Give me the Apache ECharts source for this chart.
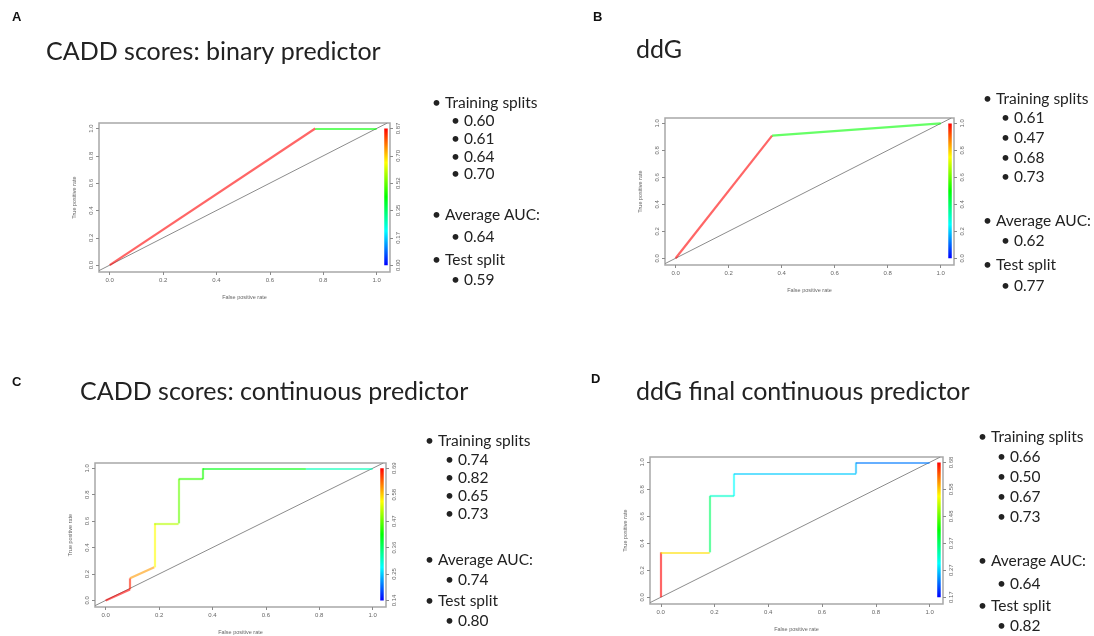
<!DOCTYPE html>
<html>
<head>
<meta charset="utf-8">
<script src="https://cdn.jsdelivr.net/npm/echarts@6/dist/echarts.min.js"></script>
<style>
  html, body { margin: 0; background: #fff; }
  #chart { width: 1094px; height: 636px; }
</style>
</head>
<body>
<div id="chart"></div>
<script>
// ---- data ----
// A: CADD scores, binary predictor
const fprA = [0, 0.77, 1.0];
const tprA = [0, 1.0, 1.0];
const levelA = [1.0, 0.5];            // colour level of each segment (0 = blue, 1 = red)
const cutoffLabelsA = ['0.00', '0.17', '0.35', '0.52', '0.70', '0.87'];
const splitsA = ['0.60', '0.61', '0.64', '0.70'];
const avgAucA = '0.64';
const testA = '0.59';

// B: ddG
const fprB = [0, 0.364, 1.0];
const tprB = [0, 0.909, 1.0];
const levelB = [1.0, 0.5];
const cutoffLabelsB = ['0.0', '0.2', '0.4', '0.6', '0.8', '1.0'];
const splitsB = ['0.61', '0.47', '0.68', '0.73'];
const avgAucB = '0.62';
const testB = '0.77';

// C: CADD scores, continuous predictor
const fprC = [0, 0.091, 0.091, 0.182, 0.182, 0.273, 0.273, 0.364, 0.364, 0.75, 1.0];
const tprC = [0, 0.083, 0.167, 0.25, 0.583, 0.583, 0.917, 0.917, 1.0, 1.0, 1.0];
const levelC = [1.0, 0.97, 0.85, 0.75, 0.68, 0.6, 0.55, 0.52, 0.48, 0.32];
const cutoffLabelsC = ['0.14', '0.25', '0.36', '0.47', '0.58', '0.69'];
const splitsC = ['0.74', '0.82', '0.65', '0.73'];
const avgAucC = '0.74';
const testC = '0.80';

// D: ddG final continuous predictor
const fprD = [0, 0, 0.182, 0.182, 0.273, 0.273, 0.727, 0.727, 1.0];
const tprD = [0, 0.333, 0.333, 0.75, 0.75, 0.917, 0.917, 1.0, 1.0];
const levelD = [1.0, 0.78, 0.4, 0.3, 0.25, 0.2, 0.18, 0.12];
const cutoffLabelsD = ['0.17', '0.27', '0.37', '0.48', '0.58', '0.68'];
const splitsD = ['0.66', '0.50', '0.67', '0.73'];
const avgAucD = '0.64';
const testD = '0.82';

const tickValues = [0, 0.2, 0.4, 0.6, 0.8, 1.0];

// ---- layout ----
const panels = [
  { letter: 'A', title: 'CADD scores: binary predictor', fpr: fprA, tpr: tprA, level: levelA,
    cut: cutoffLabelsA, splits: splitsA, auc: avgAucA, test: testA,
    grid: { left: 99, top: 123, width: 291, height: 149 },
    letterPos: [12, 18], titlePos: [46, 52],
    text: { x: 432, sx: 451, ys: [103, 121, 139, 157, 174, 215, 237, 260, 280] } },
  { letter: 'B', title: 'ddG', fpr: fprB, tpr: tprB, level: levelB,
    cut: cutoffLabelsB, splits: splitsB, auc: avgAucB, test: testB,
    grid: { left: 665, top: 118, width: 289, height: 147 },
    letterPos: [593, 18], titlePos: [636, 50],
    text: { x: 983, sx: 1001, ys: [99, 118, 138, 158, 177, 221, 241, 265, 286] } },
  { letter: 'C', title: 'CADD scores: continuous predictor', fpr: fprC, tpr: tprC, level: levelC,
    cut: cutoffLabelsC, splits: splitsC, auc: avgAucC, test: testC,
    grid: { left: 95, top: 463, width: 291, height: 148 },
    letterPos: [12, 383], titlePos: [80, 392],
    text: { x: 425, sx: 445, ys: [441, 460, 478, 496, 514, 560, 580, 601, 621] } },
  { letter: 'D', title: 'ddG final continuous predictor', fpr: fprD, tpr: tprD, level: levelD,
    cut: cutoffLabelsD, splits: splitsD, auc: avgAucD, test: testD,
    grid: { left: 650, top: 457, width: 293, height: 147 },
    letterPos: [591, 380], titlePos: [636, 392],
    text: { x: 978, sx: 997, ys: [437, 457, 477, 497, 517, 561, 584, 606, 626] } }
];

// R rainbow: hue 240 (blue) at level 0 to 0 (red) at level 1
function rainbow(t) {
  const h = 240 * (1 - t) / 60;
  const i = Math.floor(h), f = h - i;
  const q = 1 - f;
  const rgb = [[1, f, 0], [q, 1, 0], [0, 1, f], [0, q, 1], [f, 0, 1]][Math.min(i, 4)];
  return 'rgb(' + rgb.map(c => Math.round(c * 255)).join(',') + ')';
}

const axisGray = '#8a8a8a';
const labelGray = '#666';

const grids = [], xAxes = [], yAxes = [], series = [], graphics = [];
const colorbarSeries = [];

panels.forEach((p, k) => {
  grids.push(Object.assign({ show: true, borderColor: '#a8a8a8', borderWidth: 1.5, backgroundColor: '#fff' }, p.grid));

  xAxes.push({
    gridIndex: k, type: 'value', min: -0.04, max: 1.05,
    name: 'False positive rate', nameLocation: 'middle', nameGap: 22,
    nameTextStyle: { fontSize: 5.5, color: labelGray, fontFamily: 'Liberation Sans' },
    axisLine: { show: false, onZero: false }, splitLine: { show: false },
    axisTick: { show: true, length: 3, customValues: tickValues, lineStyle: { color: axisGray } },
    axisLabel: { customValues: tickValues, fontSize: 6, color: labelGray, margin: 5,
      fontFamily: 'Liberation Sans', formatter: v => v.toFixed(1) }
  });

  yAxes.push({
    gridIndex: k, type: 'value', min: -0.05, max: 1.04,
    name: 'True positive rate', nameLocation: 'middle', nameGap: 22,
    nameTextStyle: { fontSize: 5.5, color: labelGray, fontFamily: 'Liberation Sans' },
    axisLine: { show: false, onZero: false }, splitLine: { show: false },
    axisTick: { show: true, length: 3, customValues: tickValues, lineStyle: { color: axisGray } },
    axisLabel: { customValues: tickValues, fontSize: 6, color: labelGray, rotate: 90, margin: 5,
      fontFamily: 'Liberation Sans', formatter: v => v.toFixed(1) }
  });
  // colour bar cutoff labels on the right
  yAxes.push({
    gridIndex: k, type: 'value', position: 'right', min: -0.05, max: 1.04,
    axisLine: { show: false, onZero: false }, splitLine: { show: false },
    axisTick: { show: true, length: 3, customValues: tickValues, lineStyle: { color: axisGray } },
    axisLabel: { customValues: tickValues, fontSize: 6, color: labelGray, rotate: 90, margin: 5,
      fontFamily: 'Liberation Sans', formatter: v => p.cut[Math.round(v * 5)] }
  });

  // chance diagonal
  series.push({
    type: 'line', xAxisIndex: k, yAxisIndex: 2 * k, data: [[-0.04, -0.04], [1.04, 1.04]],
    symbol: 'none', silent: true, lineStyle: { color: '#8c8c8c', width: 1 }, z: 2
  });

  // ROC curve, one coloured segment per step
  const segs = [];
  for (let i = 0; i < p.fpr.length - 1; i++) {
    segs.push({
      coords: [[p.fpr[i], p.tpr[i]], [p.fpr[i + 1], p.tpr[i + 1]]],
      lineStyle: { color: rainbow(p.level[i]) }
    });
  }
  series.push({
    type: 'lines', coordinateSystem: 'cartesian2d', xAxisIndex: k, yAxisIndex: 2 * k,
    data: segs, polyline: false, silent: true,
    lineStyle: { width: 2.2, opacity: 0.6 }, z: 3
  });

  // colour bar
  colorbarSeries.push(series.length);
  series.push({
    type: 'line', xAxisIndex: k, yAxisIndex: 2 * k, data: [[1.035, 0], [1.035, 0.5], [1.035, 1]],
    symbol: 'none', silent: true, lineStyle: { width: 3.5 }, z: 3
  });

  // letter, title, bullet text
  graphics.push({ type: 'text', left: p.letterPos[0], top: p.letterPos[1] - 7,
    style: { text: p.letter, font: 'bold 13px "Liberation Sans"', fill: '#111' } });
  graphics.push({ type: 'text', x: p.titlePos[0], y: p.titlePos[1],
    style: { text: p.title, font: '25px Lato', fill: '#222', textVerticalAlign: 'middle' } });

  const t = p.text;
  const rows = [
    [t.x, '• Training splits'],
    [t.sx, '• ' + p.splits[0]], [t.sx, '• ' + p.splits[1]],
    [t.sx, '• ' + p.splits[2]], [t.sx, '• ' + p.splits[3]],
    [t.x, '• Average AUC:'], [t.sx, '• ' + p.auc],
    [t.x, '• Test split'], [t.sx, '• ' + p.test]
  ];
  rows.forEach((r, i) => {
    graphics.push({ type: 'text', x: r[0], y: t.ys[i],
      style: { text: r[1], font: '15.5px Lato', fill: '#222', textVerticalAlign: 'middle' } });
  });
});

const chart = echarts.init(document.getElementById('chart'));
chart.setOption({
  backgroundColor: '#fff',
  animation: false,
  grid: grids,
  xAxis: xAxes,
  yAxis: yAxes,
  visualMap: [{
    type: 'continuous', show: false, dimension: 1, min: 0, max: 1,
    seriesIndex: colorbarSeries,
    inRange: { color: ['#0000ff', '#00ffff', '#00ff00', '#ffff00', '#ff0000'] }
  }],
  series: series,
  graphic: graphics
});
</script>
</body>
</html>
